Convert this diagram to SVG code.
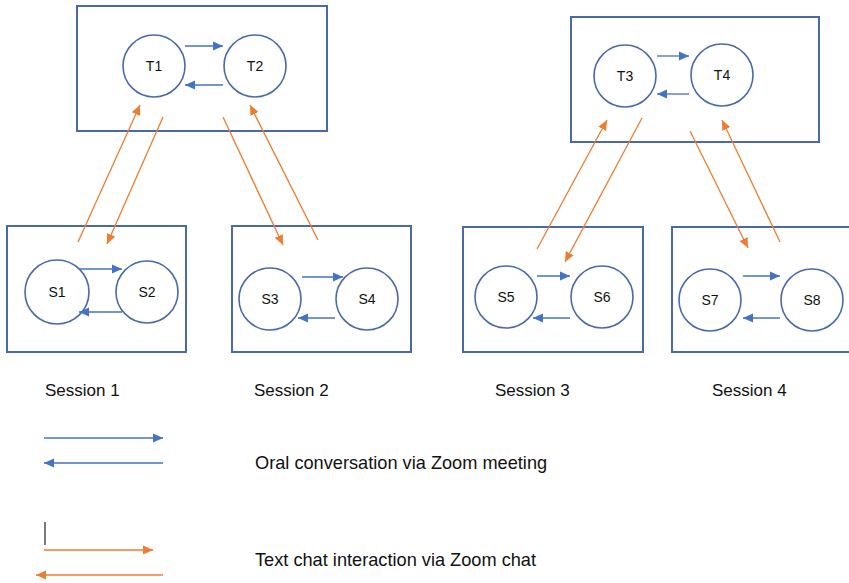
<svg xmlns="http://www.w3.org/2000/svg" width="849" height="583" viewBox="0 0 849 583">
<style>
.box{fill:none;stroke:#4a69a8;stroke-width:2}
.node{fill:#fff;stroke:#4a69a8;stroke-width:1.6}
.lbl{font-family:"Liberation Sans",Arial,sans-serif;font-size:14px;fill:#111;text-anchor:middle}
.txt{font-family:"Liberation Sans",Arial,sans-serif;font-size:17px;fill:#111}
.leg{font-family:"Liberation Sans",Arial,sans-serif;font-size:18.2px;fill:#111}
.b{stroke:#4472C4;stroke-width:1.3;fill:none;marker-end:url(#ab)}
.o{stroke:#ED7D31;stroke-width:1.3;fill:none;marker-end:url(#ao)}
</style>
<defs>
<marker id="ab" markerUnits="userSpaceOnUse" markerWidth="12" markerHeight="10" refX="10" refY="5" orient="auto"><path d="M0,0.5 L10,5 L0,9.5 Z" fill="#4472C4"/></marker>
<marker id="ao" markerUnits="userSpaceOnUse" markerWidth="12" markerHeight="10" refX="10" refY="5" orient="auto"><path d="M0,0.5 L10,5 L0,9.5 Z" fill="#ED7D31"/></marker>
</defs>
<rect width="849" height="583" fill="#fff"/>
<g id="teacher12">
<rect class="box" x="77" y="6" width="250" height="125"/>
</g>
<g id="T1"><circle class="node" cx="154" cy="66" r="31"/><text class="lbl" x="154" y="71">T1</text></g>
<g id="T2"><circle class="node" cx="255" cy="66" r="31"/><text class="lbl" x="255" y="71">T2</text></g>
<g id="teacher34">
<rect class="box" x="571" y="17" width="248" height="125"/>
</g>
<g id="T3"><circle class="node" cx="625" cy="76" r="31"/><text class="lbl" x="625" y="81">T3</text></g>
<g id="T4"><circle class="node" cx="722" cy="75" r="31"/><text class="lbl" x="722" y="80">T4</text></g>
<g id="session1"><rect class="box" x="7" y="226" width="179" height="126"/><text class="txt" x="45" y="396">Session 1</text></g>
<g id="S1"><circle class="node" cx="57" cy="292" r="32"/><text class="lbl" x="57" y="297">S1</text></g>
<g id="S2"><circle class="node" cx="147" cy="292" r="31"/><text class="lbl" x="147" y="297">S2</text></g>
<g id="session2"><rect class="box" x="232" y="226" width="179" height="126"/><text class="txt" x="254" y="396">Session 2</text></g>
<g id="S3"><circle class="node" cx="270" cy="299" r="31"/><text class="lbl" x="270" y="304">S3</text></g>
<g id="S4"><circle class="node" cx="367" cy="299" r="31"/><text class="lbl" x="367" y="304">S4</text></g>
<g id="session3"><rect class="box" x="463" y="227" width="180" height="125"/><text class="txt" x="495" y="396">Session 3</text></g>
<g id="S5"><circle class="node" cx="506" cy="297" r="31"/><text class="lbl" x="506" y="302">S5</text></g>
<g id="S6"><circle class="node" cx="602" cy="297" r="31"/><text class="lbl" x="602" y="302">S6</text></g>
<g id="session4"><rect class="box" x="672" y="227" width="180" height="125"/><text class="txt" x="712" y="396">Session 4</text></g>
<g id="S7"><circle class="node" cx="710" cy="300" r="31"/><text class="lbl" x="710" y="305">S7</text></g>
<g id="S8"><circle class="node" cx="812" cy="300" r="31"/><text class="lbl" x="812" y="305">S8</text></g>
<g id="connectors">
<line class="b" x1="185" y1="46" x2="223" y2="46"/>
<line class="b" x1="223" y1="85" x2="185" y2="85"/>
<line class="b" x1="657" y1="56" x2="689" y2="56"/>
<line class="b" x1="689" y1="94" x2="657" y2="94"/>
<line class="b" x1="79" y1="269" x2="122" y2="269"/>
<line class="b" x1="122" y1="312" x2="79" y2="312"/>
<line class="b" x1="302" y1="277" x2="343" y2="277"/>
<line class="b" x1="335" y1="318" x2="298" y2="318"/>
<line class="b" x1="537" y1="276" x2="570" y2="276"/>
<line class="b" x1="570" y1="318" x2="533" y2="318"/>
<line class="b" x1="743" y1="276" x2="780" y2="276"/>
<line class="b" x1="780" y1="318" x2="743" y2="318"/>
<line class="o" x1="78" y1="242" x2="140" y2="105"/>
<line class="o" x1="163" y1="117" x2="107" y2="244"/>
<line class="o" x1="223" y1="117" x2="283" y2="245"/>
<line class="o" x1="318" y1="240" x2="250" y2="105"/>
<line class="o" x1="537" y1="249" x2="607" y2="120"/>
<line class="o" x1="642" y1="118" x2="565" y2="262"/>
<line class="o" x1="690" y1="131" x2="748" y2="248"/>
<line class="o" x1="780" y1="242" x2="722" y2="120"/>
</g>
<g id="legend">
<line class="b" x1="44" y1="438" x2="163" y2="438"/>
<line class="b" x1="163" y1="463" x2="44" y2="463"/>
<text class="leg" x="255" y="469">Oral conversation via Zoom meeting</text>
<line x1="45" y1="522" x2="45" y2="545" stroke="#222" stroke-width="1.2"/>
<line class="o" x1="44" y1="550" x2="153" y2="550"/>
<line class="o" x1="163" y1="575" x2="36" y2="575"/>
<text class="leg" x="255" y="566">Text chat interaction via Zoom chat</text>
</g>
</svg>
